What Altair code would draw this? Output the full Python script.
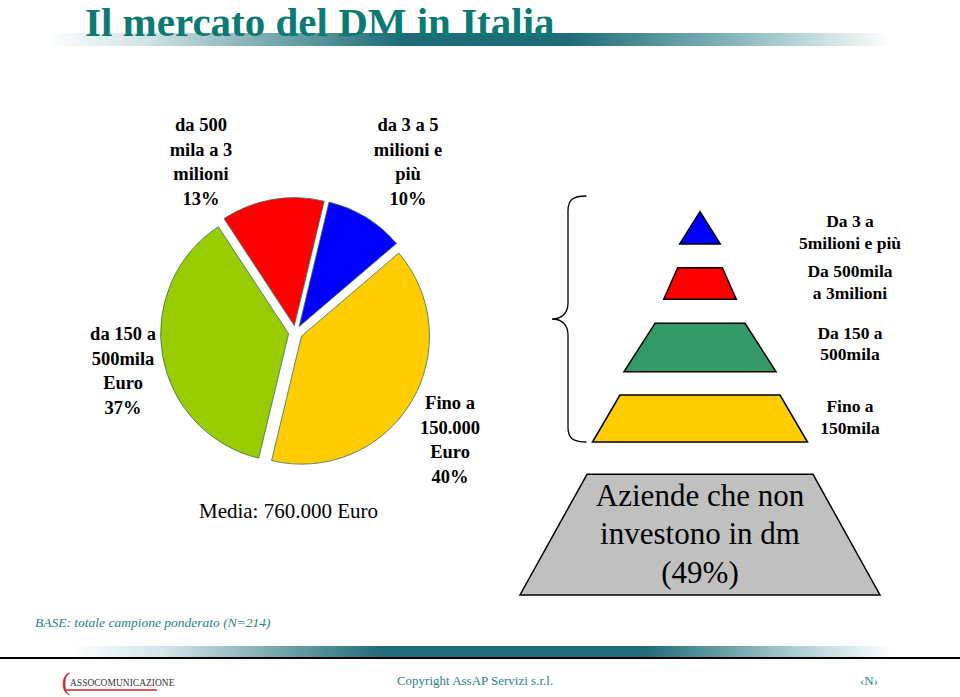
import math
import altair as alt
import pandas as pd

W, H = 960, 697

# ---------------- data ----------------
title_text = "Il mercato del DM in Italia"
pie_categories = ["da 3 a 5 milioni e più", "Fino a 150.000 Euro",
                  "da 150 a 500mila Euro", "da 500 mila a 3 milioni"]
pie_values = [10, 40, 37, 13]
pie_label_lines = [
    ["da 3 a 5", "milioni e", "più", "10%"],
    ["Fino a", "150.000", "Euro", "40%"],
    ["da 150 a", "500mila", "Euro", "37%"],
    ["da 500", "mila a 3", "milioni", "13%"],
]
mean_text = "Media: 760.000 Euro"
pyramid_levels = ["Da 3 a 5milioni e più", "Da 500mila a 3milioni",
                  "Da 150 a 500mila", "Fino a 150mila",
                  "Aziende che non investono in dm"]
pyramid_label_lines = [
    ["Da 3 a", "5milioni e più"],
    ["Da 500mila", "a 3milioni"],
    ["Da 150 a", "500mila"],
    ["Fino a", "150mila"],
]
non_investing_lines = ["Aziende che non", "investono in dm", "(49%)"]
base_text = "BASE: totale campione ponderato (N=214)"
copyright_text = "Copyright AssAP Servizi s.r.l."
page_text = "‹N›"
logo_text = "ASSOCOMUNICAZIONE"

# ---------------- styles / layout ----------------
pie_colors = ["#0000FF", "#FFCC00", "#99CC00", "#FF0000"]
pyramid_colors = ["#0000FF", "#FF0000", "#339966", "#FFCC00", "#C0C0C0"]
TEAL = "#0B7A75"
PIE_CX, PIE_CY, PIE_R, EXPLODE = 295.5, 332.5, 128, 7
START_DEG = 13.5
pie_label_pos = [(408, 125), (450, 403), (123, 334), (201, 125)]
PIE_LH = 24.5
# pyramid geometry: (y_top, half_top, y_bottom, half_bottom)
PYR_CX = 700
pyramid_geom = [(211.7, 0, 244, 20.3), (267.7, 22.3, 299.3, 36.3),
                (323.3, 45, 371.7, 76), (395, 80, 442, 107.5),
                (474.3, 113, 595, 180)]
pyr_label_pos = [(850, 222), (850, 272), (850, 333.5), (850, 407)]
PYR_LH = 21.7

sx = alt.Scale(domain=[0, W], range=[0, W], nice=False, zero=False)
sy = alt.Scale(domain=[0, H], range=[0, H], nice=False, zero=False)


def X(f):
    return alt.X(f, type="quantitative", scale=sx, axis=None)


def Y(f):
    return alt.Y(f, type="quantitative", scale=sy, axis=None)


def text_layer(rows, **kw):
    df = pd.DataFrame(rows, columns=["t", "x", "y"])
    return alt.Chart(df).mark_text(**kw).encode(x=X("x"), y=Y("y"), text="t:N")


layers = []

# gradient bars
def grad_bar(x0, x1, y0, y1, stops):
    df = pd.DataFrame([{"x0": x0, "x1": x1, "y0": y0, "y1": y1}])
    g = alt.Gradient(gradient="linear", x1=0, x2=1, y1=0, y2=0,
                     stops=[alt.GradientStop(offset=o, color=c) for o, c in stops])
    return alt.Chart(df).mark_rect(color=g).encode(
        x=X("x0"), x2="x1", y=Y("y0"), y2="y1")

layers.append(grad_bar(45, 892, 33, 46, [(0, "#ffffff"), (0.12, "#cfe3e5"), (0.42, "#1f6c78"),
                                          (0.62, "#1f6c78"), (0.8, "#7fb1b8"), (1, "#ffffff")]))
layers.append(grad_bar(70, 892, 646, 657, [(0, "#ffffff"), (0.12, "#cfe3e5"), (0.38, "#1f6c78"),
                                            (0.7, "#1f6c78"), (0.88, "#a9ccd1"), (1, "#ffffff")]))

# footer black line
rule_df = pd.DataFrame([{"x0": 0, "x1": W, "y": 658}])
layers.append(alt.Chart(rule_df).mark_rule(color="black", strokeWidth=2).encode(
    x=X("x0"), x2="x1", y=Y("y")))

# title
layers.append(text_layer([(title_text, 85, 36)], align="left", baseline="alphabetic",
                         font="Liberation Serif", fontSize=41, fontWeight="bold", color=TEAL))

# pie
total = sum(pie_values)
rows = []
cum = 0
for cat, v, col in zip(pie_categories, pie_values, pie_colors):
    s, e = cum, cum + v
    cum = e
    mid = math.radians(START_DEG) + 2 * math.pi * (s + e) / 2 / total
    rows.append({"cat": cat, "start": s, "end": e, "col": col,
                 "cx": PIE_CX + EXPLODE * math.sin(mid),
                 "cy": PIE_CY - EXPLODE * math.cos(mid)})
pie_df = pd.DataFrame(rows)
th = alt.Scale(domain=[0, total],
               range=[math.radians(START_DEG), math.radians(START_DEG) + 2 * math.pi])
layers.append(alt.Chart(pie_df).mark_arc(radius=PIE_R, stroke="#3b6f5f", strokeWidth=0.8).encode(
    x=X("cx"), y=Y("cy"),
    theta=alt.Theta("start:Q", scale=th, stack=None), theta2="end:Q",
    color=alt.Color("col:N", scale=None)))

# pie labels
prow = []
for lines, (lx, ly) in zip(pie_label_lines, pie_label_pos):
    for i, ln in enumerate(lines):
        prow.append((ln, lx, ly + i * PIE_LH))
layers.append(text_layer(prow, align="center", baseline="middle", font="Liberation Serif",
                         fontSize=18.5, fontWeight="bold", color="black"))
layers.append(text_layer([(mean_text, 288.5, 512)], align="center", baseline="middle",
                         font="Liberation Serif", fontSize=21, color="black"))

# pyramid
arows = []
for lvl, col, (yt, ht, yb, hb) in zip(pyramid_levels, pyramid_colors, pyramid_geom):
    arows.append({"level": lvl, "col": col, "py": yt, "pl": PYR_CX - ht, "pr": PYR_CX + ht})
    arows.append({"level": lvl, "col": col, "py": yb, "pl": PYR_CX - hb, "pr": PYR_CX + hb})
pyr_df = pd.DataFrame(arows)
layers.append(alt.Chart(pyr_df).mark_area(orient="horizontal", stroke="black", strokeWidth=1.5,
                                          opacity=1).encode(
    y=Y("py"), x=X("pl"), x2="pr", detail="level:N",
    color=alt.Color("col:N", scale=None)))

yrow = []
for lines, (lx, ly) in zip(pyramid_label_lines, pyr_label_pos):
    for i, ln in enumerate(lines):
        yrow.append((ln, lx, ly + i * PYR_LH))
layers.append(text_layer(yrow, align="center", baseline="middle", font="Liberation Serif",
                         fontSize=17.5, fontWeight="bold", color="black"))
layers.append(text_layer([(ln, PYR_CX, 497 + i * 38.3) for i, ln in enumerate(non_investing_lines)],
                         align="center", baseline="middle", font="Liberation Serif",
                         fontSize=31, color="black"))

# brace
BRACE = ("M0.15,-1 C0.04,-1 0,-0.97 0,-0.88 L0,-0.13 C0,-0.05 -0.05,0 -0.13,0 "
         "C-0.05,0 0,0.05 0,0.13 L0,0.88 C0,0.97 0.04,1 0.15,1")
brace_df = pd.DataFrame([{"x": 568, "y": 319}])
layers.append(alt.Chart(brace_df).mark_point(shape=BRACE, size=246 * 246, filled=False,
                                             stroke="black", strokeWidth=1.3, opacity=1).encode(
    x=X("x"), y=Y("y")))

# footer texts
layers.append(text_layer([(base_text, 35, 623)], align="left", baseline="middle",
                         font="Liberation Serif", fontSize=13.5, fontStyle="italic", color="#2a7f80"))
layers.append(text_layer([(copyright_text, 475, 681), (page_text, 869, 681)], align="center",
                         baseline="middle", font="Liberation Serif", fontSize=13, color="#2a7f80"))

# logo
layers.append(text_layer([("(", 66, 682)], align="center", baseline="middle",
                         font="Liberation Serif", fontSize=26, color="#c0282d"))
layers.append(text_layer([(logo_text, 70, 686)], align="left", baseline="alphabetic",
                         font="Liberation Serif", fontSize=9.5, color="#333333"))
logo_rule = pd.DataFrame([{"x0": 66, "x1": 157, "y": 690}])
layers.append(alt.Chart(logo_rule).mark_rule(color="#c0282d", strokeWidth=1.6).encode(
    x=X("x0"), x2="x1", y=Y("y")))

chart = alt.layer(*layers).properties(
    width=W, height=H, padding=0, autosize="none", background="white"
).configure_view(stroke=None)

chart.save("out.html", embed_options={"renderer": "svg", "actions": False})
